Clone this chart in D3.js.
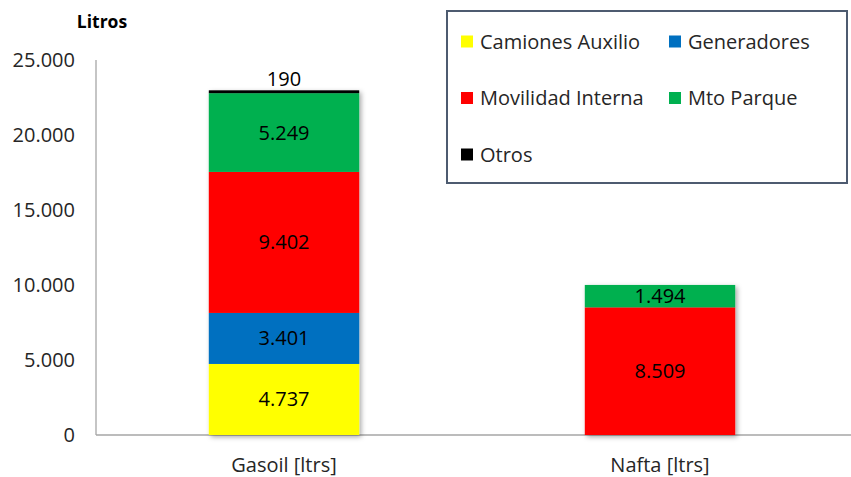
<!DOCTYPE html>
<html>
<head>
<meta charset="utf-8">
<script src="https://cdn.jsdelivr.net/npm/d3@7"></script>
<style>
  body { margin: 0; background: #fff; }
  text { font-family: "Open Sans", sans-serif; fill: #262626; }
</style>
</head>
<body>
<script>
// chart data
var categories = ["Gasoil [ltrs]", "Nafta [ltrs]"];
var seriesNames = ["Camiones Auxilio", "Generadores", "Movilidad Interna", "Mto Parque", "Otros"];
var seriesColors = ["#ffff00", "#0070c0", "#ff0000", "#00b050", "#000000"];
var gasoil = [4737, 3401, 9402, 5249, 190];
var nafta = [0, 0, 8509, 1494, 0];
var yTicks = [0, 5000, 10000, 15000, 20000, 25000];

var width = 851, height = 477;

var svg = d3.select("body").append("svg")
    .attr("width", width)
    .attr("height", height);

var defs = svg.append("defs");
var shadow = defs.append("filter").attr("id", "shadow")
    .attr("x", "-10%").attr("y", "-10%").attr("width", "130%").attr("height", "130%");
shadow.append("feDropShadow")
    .attr("dx", 2).attr("dy", 2).attr("stdDeviation", 2.5)
    .attr("flood-color", "#000").attr("flood-opacity", 0.35);

var x = d3.scaleBand()
    .domain(categories)
    .range([96, 848])
    .paddingInner(0.6)
    .paddingOuter(0.3);

var y = d3.scaleLinear()
    .domain([0, 25000])
    .range([435, 60]);

var fmt = function(v) { return d3.format(",")(v).replace(/,/g, "."); };

// stack the values
var rows = categories.map(function(c, i) {
    var vals = i == 0 ? gasoil : nafta;
    var row = {cat: c};
    seriesNames.forEach(function(s, j) { row[s] = vals[j]; });
    return row;
});
var stacked = d3.stack().keys(seriesNames)(rows);

// axes
svg.append("line")
    .attr("x1", 96).attr("x2", 96)
    .attr("y1", y(25000)).attr("y2", y(0))
    .attr("stroke", "#a6a6a6").attr("stroke-width", 1.3);
svg.append("line")
    .attr("x1", 96).attr("x2", width)
    .attr("y1", y(0)).attr("y2", y(0))
    .attr("stroke", "#a6a6a6").attr("stroke-width", 1.3);

svg.selectAll(".ytick")
    .data(yTicks)
    .enter().append("text")
    .attr("class", "ytick")
    .attr("x", 75)
    .attr("y", function(d) { return y(d); })
    .attr("dy", "0.35em")
    .attr("text-anchor", "end")
    .style("font-size", "20px")
    .text(fmt);

svg.append("text")
    .attr("x", 102).attr("y", 28)
    .attr("text-anchor", "middle")
    .style("font-size", "17.5px")
    .style("font-weight", "bold")
    .style("fill", "#000")
    .text("Litros");

svg.selectAll(".xlab")
    .data(categories)
    .enter().append("text")
    .attr("class", "xlab")
    .attr("x", function(d) { return x(d) + x.bandwidth() / 2; })
    .attr("y", 465)
    .attr("dy", "0.35em")
    .attr("text-anchor", "middle")
    .style("font-size", "20px")
    .text(function(d) { return d; });

// bars
var barGroups = svg.append("g").attr("filter", "url(#shadow)");
barGroups.selectAll("g")
    .data(stacked)
    .enter().append("g")
    .attr("fill", function(d, i) { return seriesColors[i]; })
    .selectAll("rect")
    .data(function(d) { return d.filter(function(p) { return p[1] > p[0]; }); })
    .enter().append("rect")
    .attr("x", function(d) { return x(d.data.cat); })
    .attr("y", function(d) { return y(d[1]); })
    .attr("width", x.bandwidth())
    .attr("height", function(d) { return y(d[0]) - y(d[1]); });

// value labels
stacked.forEach(function(layer) {
    layer.forEach(function(p) {
        var v = p[1] - p[0];
        if (v <= 0) return;
        var ly = v < 500 ? y(p[1]) - 11 : y((p[0] + p[1]) / 2);
        svg.append("text")
            .attr("x", x(p.data.cat) + x.bandwidth() / 2)
            .attr("y", ly)
            .attr("dy", "0.35em")
            .attr("text-anchor", "middle")
            .style("font-size", "20px")
            .style("fill", "#000")
            .text(fmt(v));
    });
});

// legend
var legend = svg.append("g");
legend.append("rect")
    .attr("x", 447).attr("y", 11)
    .attr("width", 400).attr("height", 172)
    .attr("fill", "#fff")
    .attr("stroke", "#4d5b70")
    .attr("stroke-width", 2);

var legPos = [[461, 41.5], [669, 41.5], [461, 98], [669, 98], [461, 154.5]];
seriesNames.forEach(function(s, i) {
    var g = legend.append("g")
        .attr("transform", "translate(" + legPos[i][0] + "," + legPos[i][1] + ")");
    g.append("rect")
        .attr("x", 0).attr("y", -6)
        .attr("width", 12).attr("height", 12)
        .attr("fill", seriesColors[i]);
    g.append("text")
        .attr("x", 19).attr("y", 0)
        .attr("dy", "0.35em")
        .style("font-size", "20px")
        .text(s);
});
</script>
</body>
</html>
